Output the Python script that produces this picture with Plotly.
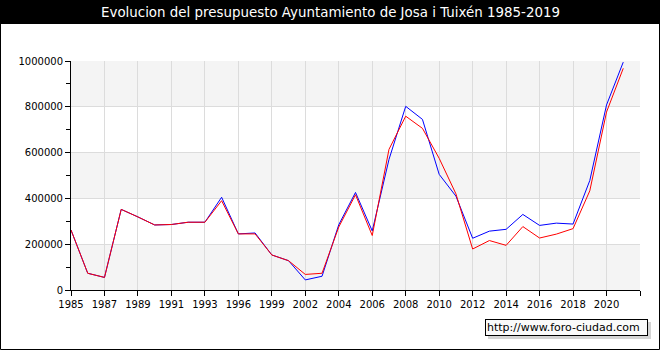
import plotly.graph_objects as go

# ---- data ----
years = [1985, 1986, 1987, 1988, 1989, 1990, 1991, 1992, 1993, 1994,
         1996, 1997, 1999, 2000, 2002, 2003, 2004, 2005, 2006, 2007,
         2008, 2009, 2010, 2011, 2012, 2013, 2014, 2015, 2016, 2017,
         2018, 2019, 2020, 2021]

blue_vals = [262000, 73000, 55000, 352000, 319000, 284000, 286000, 296000, 296000, 405000,
             245000, 249000, 153000, 128000, 44000, 60000, 285000, 426000, 258000, 570000,
             802000, 745000, 505000, 410000, 226000, 257000, 265000, 330000, 282000, 292000,
             288000, 478000, 808000, 995000]

red_vals = [262000, 73000, 55000, 352000, 319000, 284000, 286000, 296000, 296000, 390000,
            245000, 245000, 153000, 128000, 68000, 73000, 275000, 416000, 238000, 614000,
            759000, 706000, 575000, 420000, 179000, 216000, 195000, 277000, 227000, 244000,
            268000, 433000, 777000, 968000]

title_text = "Evolucion del presupuesto Ayuntamiento de Josa i Tuixén 1985-2019"
watermark = "http://www.foro-ciudad.com"

# ---- geometry helpers (plot area 71..640 x, 61..290 y) ----
PL, PR, PT, PB = 71, 640, 61, 290
W, H = 660, 350
def px(x):
    return (x - PL) / (PR - PL)
def py(y):
    return (PB - y) / (PB - PT)

xidx = list(range(len(years)))
tickvals = [i for i in xidx if i % 2 == 0] + [len(years)]
ticktext = [str(years[i]) for i in xidx if i % 2 == 0] + [""]

fig = go.Figure()
fig.add_trace(go.Scatter(x=xidx, y=blue_vals, mode="lines",
                         line=dict(color="#0000ff", width=1), hoverinfo="skip"))
fig.add_trace(go.Scatter(x=xidx, y=red_vals, mode="lines",
                         line=dict(color="#ff0000", width=1), hoverinfo="skip"))

shapes = []
for lo in (0, 400000, 800000):
    shapes.append(dict(type="rect", xref="paper", yref="y", x0=0, x1=1,
                       y0=lo, y1=lo + 200000, fillcolor="#f4f4f4",
                       line=dict(width=0), layer="below"))
# title band
shapes.append(dict(type="rect", xref="paper", yref="paper",
                   x0=px(0), x1=px(W), y0=py(24), y1=py(-2),
                   fillcolor="#000000", line=dict(width=0), layer="above"))
# outer frame
shapes.append(dict(type="rect", xref="paper", yref="paper",
                   x0=px(0.5), x1=px(W - 0.5), y0=py(H - 0.5), y1=py(0),
                   fillcolor="rgba(0,0,0,0)", line=dict(color="#000000", width=1),
                   layer="above"))
# watermark shadow
shapes.append(dict(type="rect", xref="paper", yref="paper",
                   x0=px(488), x1=px(651), y0=py(339), y1=py(322),
                   fillcolor="#d4d4d4", line=dict(width=0), layer="above"))

annotations = [
    dict(text=title_text, xref="paper", yref="paper", x=px(330), y=py(13),
         xanchor="center", yanchor="middle", showarrow=False,
         font=dict(family="DejaVu Sans", size=13.4, color="#ffffff")),
    dict(text=watermark, xref="paper", yref="paper", x=px(485), y=py(319),
         xanchor="left", yanchor="top", showarrow=False,
         width=159, height=13, align="left", valign="middle",
         font=dict(family="DejaVu Sans", size=11, color="#000000"),
         bgcolor="#fafafa", bordercolor="#000000", borderwidth=1, borderpad=1),
]

fig.update_layout(
    width=W, height=H,
    margin=dict(l=PL, r=W - PR, t=PT, b=H - PB),
    paper_bgcolor="#ffffff", plot_bgcolor="#ffffff",
    showlegend=False,
    shapes=shapes, annotations=annotations,
    font=dict(family="DejaVu Sans", size=10, color="#000000"),
    xaxis=dict(range=[0, len(years)], tickmode="array", tickvals=tickvals,
               ticktext=ticktext, showgrid=True, gridcolor="#dcdcdc", gridwidth=1,
               showline=True, linecolor="#000000", linewidth=1,
               ticks="outside", ticklen=5, tickcolor="#000000",
               zeroline=False, fixedrange=True, tickfont=dict(size=10)),
    yaxis=dict(range=[0, 1000000], tickmode="linear", tick0=0, dtick=200000,
               tickformat="d", showgrid=True, gridcolor="#dcdcdc", gridwidth=1,
               showline=True, linecolor="#000000", linewidth=1,
               ticks="outside", ticklen=5, tickcolor="#000000",
               minor=dict(dtick=100000, ticks="outside", ticklen=4,
                          tickcolor="#000000", showgrid=False),
               zeroline=False, fixedrange=True, tickfont=dict(size=10)),
)

fig.write_html("out.html", config={"displayModeBar": False})
